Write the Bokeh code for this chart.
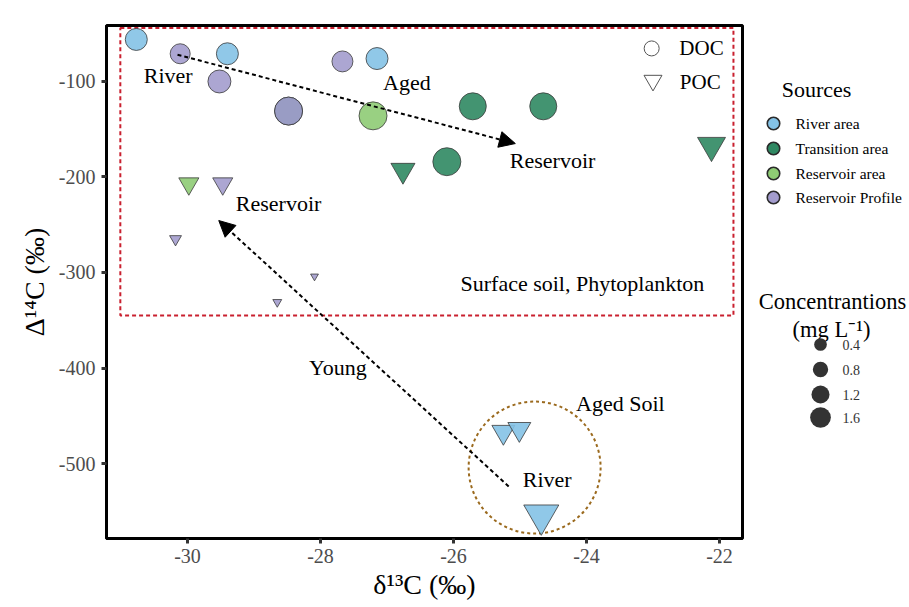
from bokeh.plotting import figure
from bokeh.layouts import row
from bokeh.models import Arrow, NormalHead, FixedTicker, ColumnDataSource, Range1d
from bokeh.core.properties import value
from bokeh.embed import file_html
from bokeh.resources import INLINE
import math

# ---------------- data ----------------
sources = ["River area", "Transition area", "Reservoir area", "Reservoir Profile"]
source_colors = ["#84C2E6", "#2F8862", "#8ECB74", "#A39CCD"]

# DOC (circles)
doc_x = [-30.77, -30.11, -29.40, -29.52, -28.48, -28.48, -27.67, -27.15, -27.21, -25.71, -24.65, -26.10]
doc_y = [-56, -71, -71, -100, -131, -131, -79, -76, -136, -126, -126, -184]
doc_src = ["River area", "Reservoir Profile", "River area", "Reservoir Profile", "Transition area",
           "Reservoir Profile", "Reservoir Profile", "River area", "Reservoir area",
           "Transition area", "Transition area", "Transition area"]
doc_conc = [1.0, 0.83, 1.0, 1.09, 1.62, 1.62, 0.91, 1.0, 1.62, 1.51, 1.51, 1.62]

# POC (inverted triangles)
poc_x = [-22.12, -26.76, -29.98, -29.47, -30.18, -28.09, -28.65, -25.25, -25.01, -24.68]
poc_y = [-167, -193, -207, -207, -265, -304, -331, -467, -464, -554]
poc_src = ["Transition area", "Transition area", "Reservoir area", "Reservoir Profile",
           "Reservoir Profile", "Reservoir Profile", "Reservoir Profile",
           "River area", "River area", "River area"]
poc_conc = [0.89, 0.66, 0.46, 0.46, 0.16, 0.07, 0.09, 0.60, 0.60, 1.40]

x_ticks = [-30, -28, -26, -24, -22]
x_tick_labels = ["-30", "-28", "-26", "-24", "-22"]
y_ticks = [-500, -400, -300, -200, -100]
y_tick_labels = ["-500", "-400", "-300", "-200", "-100"]

legend_conc = [0.4, 0.8, 1.2, 1.6]
legend_conc_labels = ["0.4", "0.8", "1.2", "1.6"]

# region annotations
box_x = [-31.01, -21.79]
box_y = [-345, -44]
soil_circle = (-24.78, -504.2)
arrow1 = (-30.15, -72, -25.07, -165)
arrow2 = (-25.17, -524, -29.53, -245.6)

ann_text = ["River", "Aged", "Reservoir", "Reservoir", "Surface soil,  Phytoplankton",
            "Young", "Aged Soil", "River"]
ann_x = [-30.29, -26.70, -24.51, -28.63, -24.02, -27.74, -23.49, -24.59]
ann_y = [-93.7, -101, -183, -228, -311.5, -399.5, -437, -517]

FONT = "Liberation Serif"
cmap = dict(zip(sources, source_colors))


def circ_size(c):
    return 22.0 * math.sqrt(c)


def tri_size(c):
    return 22.0 * 1.347 * math.sqrt(c)


def legend_size(c):
    return 10.0 + 6.7 * c


# ---------------- main figure ----------------
p = figure(width=744, height=607, output_backend="svg", toolbar_location=None,
           x_range=Range1d(-31.218, -21.654), y_range=Range1d(-578.5, -41.4),
           min_border_left=106, min_border_right=2, min_border_top=25, min_border_bottom=69)
p.background_fill_color = "white"
p.border_fill_color = "white"
p.grid.visible = False
p.outline_line_color = "black"
p.outline_line_width = 3

for ax in (p.xaxis, p.yaxis):
    ax.axis_line_color = "black"
    ax.axis_line_width = 3
    ax.major_tick_line_color = "#333333"
    ax.major_tick_line_width = 3
    ax.major_tick_out = 5
    ax.major_tick_in = 0
    ax.minor_tick_line_color = None
    ax.major_label_text_font = FONT
    ax.major_label_text_font_size = "20px"
    ax.major_label_text_color = "#4D4D4D"
    ax.axis_label_text_font = FONT
    ax.axis_label_text_font_size = "28px"
    ax.axis_label_text_font_style = "normal"
    ax.axis_label_text_color = "black"

p.xaxis.ticker = FixedTicker(ticks=x_ticks)
p.xaxis.major_label_overrides = dict(zip(x_ticks, x_tick_labels))
p.yaxis.ticker = FixedTicker(ticks=y_ticks)
p.yaxis.major_label_overrides = dict(zip(y_ticks, y_tick_labels))
p.xaxis.axis_label = "δ¹³C (‰)"
p.yaxis.axis_label = "Δ¹⁴C (‰)"
p.xaxis.major_label_standoff = 5
p.yaxis.major_label_standoff = 6
p.xaxis.axis_label_standoff = 3
p.yaxis.axis_label_standoff = 6

# red dashed region
p.quad(left=[box_x[0]], right=[box_x[1]], bottom=[box_y[0]], top=[box_y[1]],
       fill_color=None, line_color="#C9202F", line_width=2, line_dash="4 3")

# brown dotted circle
p.circle(x=[soil_circle[0]], y=[soil_circle[1]], radius=66, radius_units="screen",
         fill_color=None, line_color="#9B6A1E", line_width=2, line_dash="3 3")

# arrows
for (xs, ys, xe, ye) in (arrow1, arrow2):
    p.add_layout(Arrow(x_start=xs, y_start=ys, x_end=xe, y_end=ye,
                       line_color="black", line_width=2, line_dash="4 3",
                       end=NormalHead(size=16, fill_color="black", line_color="black", line_width=1)))

# points
doc = ColumnDataSource(dict(x=doc_x, y=doc_y, size=[circ_size(c) for c in doc_conc],
                            color=[cmap[s] for s in doc_src]))
poc = ColumnDataSource(dict(x=poc_x, y=poc_y, size=[tri_size(c) for c in poc_conc],
                            color=[cmap[s] for s in poc_src]))
p.scatter(x="x", y="y", size="size", marker="inverted_triangle", fill_color="color",
          fill_alpha=0.9, line_color="#3A3A3A", line_width=0.8, source=poc)
p.scatter(x="x", y="y", size="size", marker="circle", fill_color="color",
          fill_alpha=0.9, line_color="#3A3A3A", line_width=0.8, source=doc)

# annotation texts
p.text(x=ann_x, y=ann_y, text=ann_text, text_font=value(FONT), text_font_size=value("22px"),
       text_align="center", text_baseline="middle", text_color="black")

# DOC / POC key
p.scatter(x=[-23.02], y=[-65.4], size=15, marker="circle", fill_color=None,
          line_color="#555555", line_width=1)
p.scatter(x=[-23.0], y=[-99], size=18, marker="inverted_triangle", fill_color=None,
          line_color="#555555", line_width=1)
p.text(x=[-22.27, -22.29], y=[-65.4, -101], text=["DOC", "POC"], text_font=value(FONT),
       text_font_size=value("21px"), text_align="center", text_baseline="middle", text_color="black")

# ---------------- legend figure ----------------
# its frame is aligned with the main frame (page pixels 25..538), so y is in page pixels
leg = figure(width=165, height=607, output_backend="svg", toolbar_location=None,
             x_range=Range1d(0, 165), y_range=Range1d(538, 25),
             x_axis_type=None, y_axis_type=None, min_border=0)
leg.grid.visible = False
leg.outline_line_color = None
leg.background_fill_color = "white"
leg.border_fill_color = "white"

leg.text(x=[72], y=[89], text=["Sources"], text_font=value(FONT), text_font_size=value("22px"),
         text_align="center", text_baseline="middle", text_color="black")
src_rows = [123, 148, 173, 197]
leg.scatter(x=[29] * len(sources), y=src_rows, size=12.5, marker="circle",
            fill_color=source_colors, line_color="#2A2A2A", line_width=1.6)
leg.text(x=[51] * len(sources), y=src_rows, text=sources, text_font=value(FONT),
         text_font_size=value("15.5px"), text_align="left", text_baseline="middle", text_color="black")

leg.text(x=[88, 87], y=[301, 329], text=["Concentrantions", "(mg L⁻¹)"], text_font=value(FONT),
         text_font_size=value("22.5px"), text_align="center", text_baseline="middle", text_color="black")
size_rows = [344, 369, 394, 417]
leg.scatter(x=[76] * len(legend_conc), y=size_rows, size=[legend_size(c) for c in legend_conc],
            marker="circle", fill_color="#333333", line_color=None)
leg.text(x=[98] * len(legend_conc), y=size_rows, text=legend_conc_labels, text_font=value(FONT),
         text_font_size=value("14px"), text_align="left", text_baseline="middle", text_color="#333333")

layout = row(p, leg)
open("out.html", "w").write(file_html(layout, INLINE))
